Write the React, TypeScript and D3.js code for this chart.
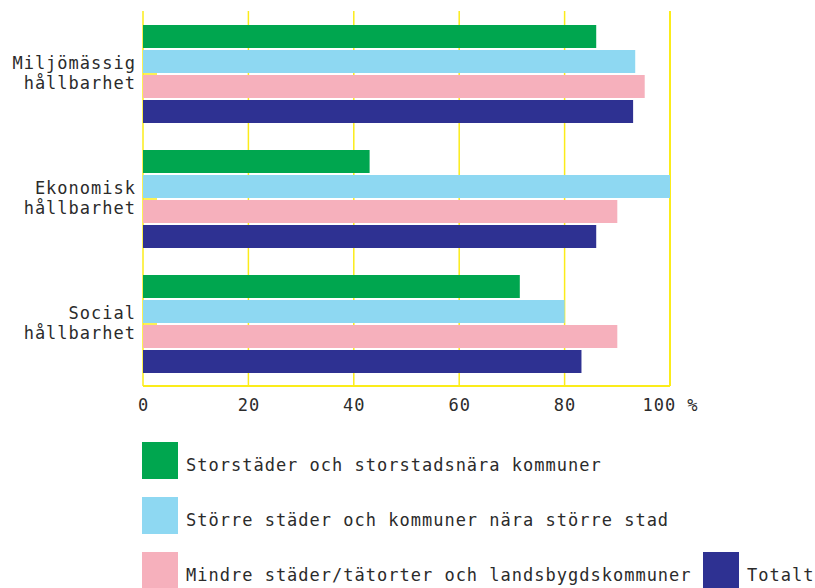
import React from "react";
import * as d3 from "d3";

const categories = ["Miljömässig hållbarhet", "Ekonomisk hållbarhet", "Social hållbarhet"];
const categoryLines = [["Miljömässig", "hållbarhet"], ["Ekonomisk", "hållbarhet"], ["Social", "hållbarhet"]];
const seriesNames = [
  "Storstäder och storstadsnära kommuner",
  "Större städer och kommuner nära större stad",
  "Mindre städer/tätorter och landsbygdskommuner",
  "Totalt",
];
const seriesColors = ["#00a64f", "#8ed8f2", "#f6b0bc", "#2e3192"];
const storstader = [86, 43, 71.5];
const storreStader = [93.4, 100, 80];
const mindreStader = [95.2, 90, 90];
const totalt = [93, 86, 83.2];
const seriesValues = [storstader, storreStader, mindreStader, totalt];
const tickValues = [0, 20, 40, 60, 80, 100];
const tickLabels = ["0", "20", "40", "60", "80", "100 %"];

const W = 815;
const H = 588;
const FONT = "'DejaVu Sans Mono', monospace";
const YELLOW = "#fbec1a";
const TEXT = "#2b2b2b";

export default function App() {
  const plotTop = 11;
  const plotBottom = 386;
  const x = d3.scaleLinear().domain([0, 100]).range([143, 670]);
  const y = d3.scaleBand<string>().domain(categories).range([25, 373]).paddingInner(0.216).paddingOuter(0);
  const ys = d3
    .scaleBand<number>()
    .domain(seriesNames.map((_, i) => i))
    .range([0, y.bandwidth()])
    .paddingInner(0.08);

  return (
    <svg width={W} height={H} style={{ position: "absolute", left: 0, top: 0, background: "#fff" }}
      fontFamily={FONT}>
      {/* y-axis inner ticks (partly hidden by bars) */}
      {categories.map((c) => (
        <line key={"yt" + c} x1={x(0)} x2={x(0) + 14}
          y1={(y(c) as number) + y.bandwidth() / 2} y2={(y(c) as number) + y.bandwidth() / 2}
          stroke={YELLOW} strokeWidth={1.5} />
      ))}
      {/* gridlines */}
      {tickValues.map((t) => (
        <line key={"g" + t} x1={x(t)} x2={x(t)} y1={plotTop} y2={plotBottom}
          stroke={YELLOW} strokeWidth={t === 100 ? 2 : 1.5} />
      ))}
      <line x1={x(0)} x2={x(100)} y1={plotBottom} y2={plotBottom} stroke={YELLOW} strokeWidth={2} />
      {/* bars */}
      {categories.map((c, ci) =>
        seriesValues.map((vals, si) => (
          <rect key={c + si} x={x(0)} y={(y(c) as number) + (ys(si) as number)}
            width={x(vals[ci]) - x(0)} height={ys.bandwidth()} fill={seriesColors[si]} />
        ))
      )}
      {/* category labels */}
      {categories.map((c, ci) => {
        const cy = (y(c) as number) + y.bandwidth() / 2;
        return (
          <text key={"cl" + c} textAnchor="end" fontSize={17} letterSpacing={1} fill={TEXT}>
            {categoryLines[ci].map((l, li) => (
              <tspan key={li} x={136} y={cy - 5 + li * 20}>{l}</tspan>
            ))}
          </text>
        );
      })}
      {/* x tick labels */}
      {tickValues.map((t, i) => (
        <text key={"tl" + t} x={x(t) + 0.5} y={411} textAnchor="middle" fontSize={17}
          letterSpacing={1} fill={TEXT}>{tickLabels[i]}</text>
      ))}
      {/* legend */}
      {seriesNames.slice(0, 3).map((s, i) => (
        <g key={"lg" + i}>
          <rect x={142} y={442 + i * 55} width={36} height={37} fill={seriesColors[i]} />
          <text x={186} y={471 + i * 55} fontSize={17} letterSpacing={1} fill={TEXT}>{s}</text>
        </g>
      ))}
      <g>
        <rect x={703} y={552} width={36} height={37} fill={seriesColors[3]} />
        <text x={747} y={581} fontSize={17} letterSpacing={1} fill={TEXT}>{seriesNames[3]}</text>
      </g>
    </svg>
  );
}
